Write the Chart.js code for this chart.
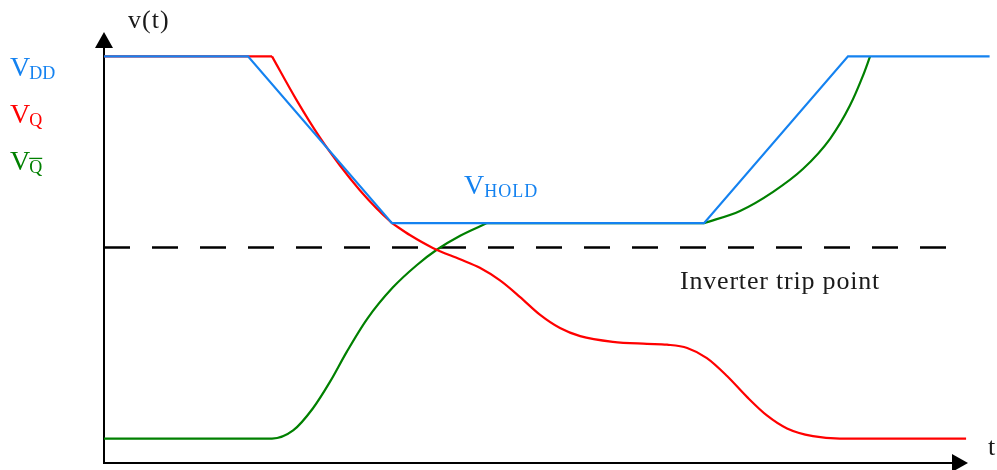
<!DOCTYPE html>
<html>
<head>
<meta charset="utf-8">
<script src="https://cdn.jsdelivr.net/npm/chart.js@4.4.1/dist/chart.umd.min.js"></script>
<style>
  html, body { margin: 0; padding: 0; background: #fff; }
</style>
</head>
<body>
<canvas id="timing" width="997" height="470"></canvas>
<script>
// levels in % of VDD
const VDD = 100
const VHOLD = 59
const VTRIP = 53

// supply rail, piecewise linear
const tSupply = [0, 3, 6, 12.5, 15.5, 18.45]
const vSupply = [100, 100, 59, 59, 100, 100]

// node Q
const tQ = [0, 3.5, 4.0, 4.5, 4.92, 5.33, 5.69, 6.0, 6.38, 6.85, 7.42, 7.83, 8.25, 8.67, 9.08, 9.5, 9.92, 10.6, 11.31, 11.73, 12.15, 12.56, 12.98, 13.4, 13.81, 14.23, 14.77, 15.33, 17.96]
const vQ = [100, 100, 89.5, 80.0, 73.1, 67.1, 62.5, 59.0, 56.0, 52.9, 50.1, 48.0, 44.9, 40.8, 36.5, 33.2, 31.2, 29.8, 29.3, 29.1, 28.3, 25.8, 21.4, 16.2, 11.7, 8.5, 6.6, 6.0, 6.0]
const kinkQ = [1, 7]

// node Qbar
const tQb = [0, 3.5, 3.94, 4.35, 4.71, 5.06, 5.48, 6.02, 6.52, 6.94, 7.42, 7.98, 12.5, 13.25, 13.94, 14.56, 15.13, 15.54, 15.81, 15.96]
const vQb = [6, 6, 8.0, 13.4, 20.0, 27.4, 35.4, 43.2, 48.7, 52.5, 55.9, 59.0, 59.0, 62.0, 66.7, 72.3, 79.8, 87.9, 95.2, 100]
const kinkQb = [11, 12]

// inverter trip point line
const tTrip = [0, 17.55]
const vTrip = [VTRIP, VTRIP]

const BLUE = '#1482f0'
const RED = '#ff0000'
const GREEN = '#008000'
const SERIF = '"Liberation Serif", "DejaVu Serif", serif'

function pts(ts, vs) {
    return ts.map((t, i) => ({ x: t, y: vs[i] }))
}

// cut a curve at its corners so the smoothing doesn't round them off
function split(p, kinks) {
    const out = []
    let s = 0
    kinks.forEach(k => { out.push(p.slice(s, k + 1)); s = k })
    out.push(p.slice(s))
    return out
}

const datasets = []
datasets.push({ data: pts(tSupply, vSupply), borderColor: BLUE, borderWidth: 2.2, tension: 0, order: 0 })
split(pts(tQ, vQ), kinkQ).forEach(seg => {
    datasets.push({ data: seg, borderColor: RED, borderWidth: 2.2, cubicInterpolationMode: 'monotone', order: 1 })
})
split(pts(tQb, vQb), kinkQb).forEach(seg => {
    datasets.push({ data: seg, borderColor: GREEN, borderWidth: 2.2, cubicInterpolationMode: 'monotone', order: 2 })
})
datasets.push({ data: pts(tTrip, vTrip), borderColor: '#000', borderWidth: 2.6, borderDash: [26, 22], order: 3 })

function subLabel(ctx, x, base, main, sub, color, bar) {
    ctx.fillStyle = color
    ctx.strokeStyle = color
    ctx.font = '28px ' + SERIF
    ctx.fillText(main, x, base)
    const w = ctx.measureText(main).width
    ctx.font = '18px ' + SERIF
    ctx.fillText(sub, x + w - 1, base + 3)
    if (bar) {
        const sw = ctx.measureText(sub).width
        ctx.lineWidth = 1.3
        ctx.beginPath()
        ctx.moveTo(x + w - 1, base - 12)
        ctx.lineTo(x + w - 1 + sw, base - 12)
        ctx.stroke()
    }
}

const decor = {
    id: 'decor',
    beforeDatasetsDraw(chart) {
        const { ctx, scales: { x, y } } = chart
        const x0 = x.getPixelForValue(0), y0 = y.getPixelForValue(0)
        const xEnd = x.getPixelForValue(18), yEnd = y.getPixelForValue(106)
        ctx.save()
        ctx.strokeStyle = '#000'
        ctx.fillStyle = '#000'
        ctx.lineWidth = 2
        ctx.beginPath()
        ctx.moveTo(x0, yEnd + 14)
        ctx.lineTo(x0, y0)
        ctx.lineTo(xEnd - 14, y0)
        ctx.stroke()
        // arrow heads
        ctx.beginPath()
        ctx.moveTo(x0, yEnd)
        ctx.lineTo(x0 - 9, yEnd + 16)
        ctx.lineTo(x0 + 9, yEnd + 16)
        ctx.closePath()
        ctx.fill()
        ctx.beginPath()
        ctx.moveTo(xEnd, y0)
        ctx.lineTo(xEnd - 16, y0 - 9)
        ctx.lineTo(xEnd - 16, y0 + 9)
        ctx.closePath()
        ctx.fill()
        ctx.restore()
    },
    afterDatasetsDraw(chart) {
        const { ctx, scales: { x, y } } = chart
        const x0 = x.getPixelForValue(0), y0 = y.getPixelForValue(0)
        const xEnd = x.getPixelForValue(18), yEnd = y.getPixelForValue(106)
        ctx.save()
        ctx.textBaseline = 'alphabetic'
        ctx.textAlign = 'left'

        ctx.fillStyle = '#1a1a1a'
        ctx.font = '26px ' + SERIF
        ctx.letterSpacing = '1px'
        ctx.fillText('v(t)', x0 + 24, yEnd - 4)
        ctx.fillText('t', xEnd + 20, y0 - 8)

        ctx.letterSpacing = '0.8px'
        ctx.fillText('Inverter trip point', x.getPixelForValue(12), y.getPixelForValue(VTRIP) + 41)
        ctx.letterSpacing = '0px'

        // signal names down the left side
        const top = y.getPixelForValue(VDD) + 20
        subLabel(ctx, 10, top, 'V', 'DD', BLUE, false)
        subLabel(ctx, 10, top + 47, 'V', 'Q', RED, false)
        subLabel(ctx, 10, top + 94, 'V', 'Q', GREEN, true)

        ctx.letterSpacing = '1px'
        subLabel(ctx, x.getPixelForValue(7.5), y.getPixelForValue(VHOLD) - 29, 'V', 'HOLD', BLUE, false)
        ctx.restore()
    }
}

new Chart(document.getElementById('timing'), {
    type: 'line',
    data: { datasets: datasets },
    options: {
        responsive: false,
        animation: false,
        events: [],
        layout: { padding: { left: 104, right: 5, top: 32, bottom: 7 } },
        scales: {
            x: { type: 'linear', display: false, min: 0, max: 18.5 },
            y: { display: false, min: 0, max: 106 }
        },
        elements: { point: { radius: 0 }, line: { borderCapStyle: 'butt' } },
        datasets: { line: { clip: false, fill: false } },
        plugins: { legend: { display: false }, tooltip: { enabled: false } }
    },
    plugins: [decor]
})
</script>
</body>
</html>
